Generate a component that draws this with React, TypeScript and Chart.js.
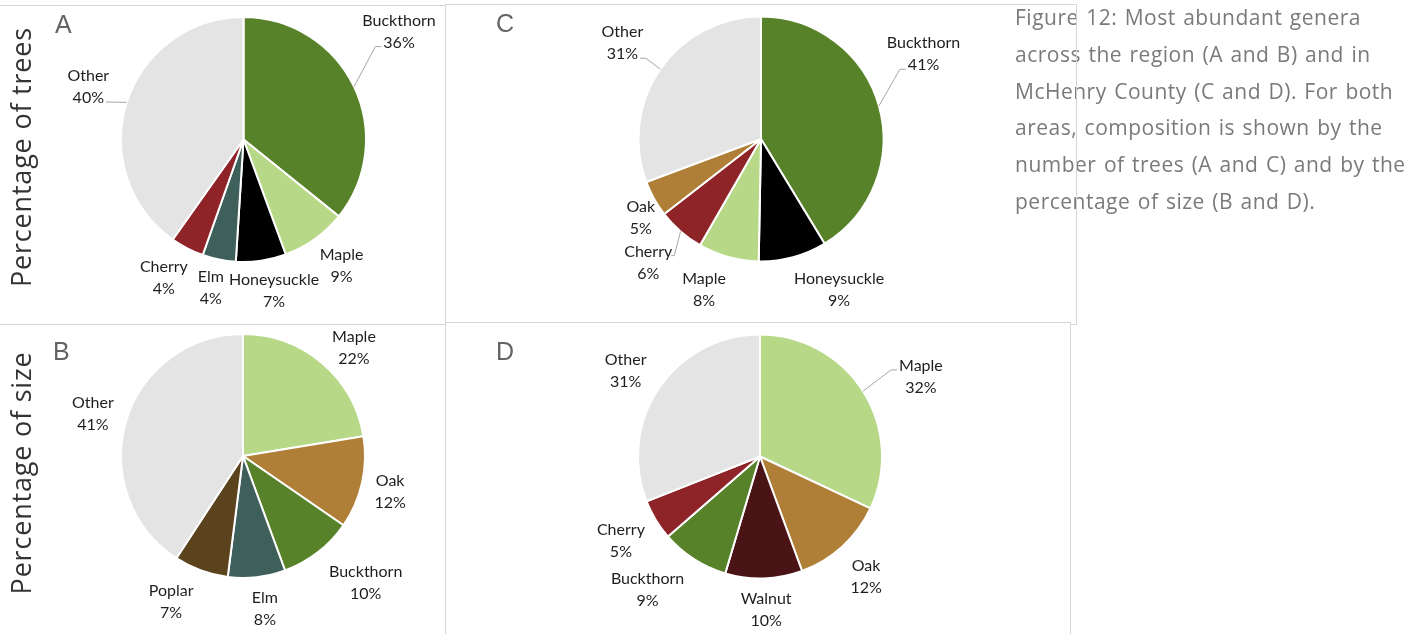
import React, { useEffect, useRef } from 'react';
import { Chart, registerables } from 'chart.js';

Chart.register(...registerables);

// ---------------- data ----------------
// A: region, number of trees
const genusA = ['Buckthorn', 'Maple', 'Honeysuckle', 'Elm', 'Cherry', 'Other'];
const valuesA = [35.8, 8.6, 6.6, 4.4, 4.4, 40.2];
// B: region, percentage of size
const genusB = ['Maple', 'Oak', 'Buckthorn', 'Elm', 'Poplar', 'Other'];
const valuesB = [22.4, 12.2, 9.8, 7.6, 7.2, 40.8];
// C: McHenry County, number of trees
const genusC = ['Buckthorn', 'Honeysuckle', 'Maple', 'Cherry', 'Oak', 'Other'];
const valuesC = [41.3, 9.0, 8.0, 6.2, 4.8, 30.7];
// D: McHenry County, percentage of size
const genusD = ['Maple', 'Oak', 'Walnut', 'Buckthorn', 'Cherry', 'Other'];
const valuesD = [32.0, 12.4, 10.2, 9.0, 5.4, 31.0];

const rowLabels = ['Percentage of trees', 'Percentage of size'];
const captionLines = [
  'Figure 12: Most abundant genera',
  'across the region (A and B) and in',
  'McHenry County (C and D). For both',
  'areas, composition is shown by the',
  'number of trees (A and C) and by the',
  'percentage of size (B and D).',
];

// ---------------- styles ----------------
const GENUS_COLORS: Record<string, string> = {
  Buckthorn: '#58822a',
  Maple: '#b7d886',
  Honeysuckle: '#000000',
  Elm: '#3f605a',
  Cherry: '#8e2328',
  Oak: '#b07f37',
  Poplar: '#5a431d',
  Walnut: '#4a1315',
  Other: '#e4e4e4',
};

const LABEL_FONT = '16px Lato';
const LABEL_COLOR = '#1e1e1e';
const LINE_H = 22;
const BASE_OFF = 6;
const LETTER_FONT = '25px "Liberation Sans"';
const LETTER_COLOR = '#646464';
const LEADER_COLOR = '#a6a6a6';
const BORDER_COLOR = '#d6d6d6';

// label layout: [angle clockwise from 12 o'clock (deg), distance in radii]
const placeA = [[55, 1.55], [142, 1.3], [168.5, 1.25], [192.5, 1.23], [210, 1.3], [289, 1.34]];
const placeB = [[45.5, 1.275], [103.4, 1.24], [135.7, 1.44], [171.8, 1.26], [206.3, 1.33], [286, 1.28]];
const placeC = [[62.2, 1.5], [152.5, 1.38], [200.8, 1.31], [222.6, 1.36], [237, 1.17], [304.9, 1.38]];
const placeD = [[63.4, 1.475], [138.4, 1.31], [177.7, 1.25], [220.3, 1.425], [239, 1.33], [302.8, 1.31]];

type PanelCfg = {
  key: string;
  genus: string[];
  values: number[];
  box: { x: number; y: number; w: number; h: number };
  center: [number, number];
  r: number;
  letter: [number, number];
  place: number[][];
  leaders: Record<string, number>;
};

const PANELS: PanelCfg[] = [
  { key: 'A', genus: genusA, values: valuesA, box: { x: 0, y: 6, w: 445, h: 318 }, center: [243.5, 139.5], r: 122.5, letter: [55, 33], place: placeA, leaders: { Buckthorn: 1, Other: 1 } },
  { key: 'C', genus: genusC, values: valuesC, box: { x: 446, y: 5, w: 630, h: 317 }, center: [761, 139], r: 122.5, letter: [496, 32], place: placeC, leaders: { Buckthorn: 1, Other: 1, Cherry: 0 } },
  { key: 'B', genus: genusB, values: valuesB, box: { x: 0, y: 325, w: 445, h: 309 }, center: [243, 456], r: 122, letter: [53, 360], place: placeB, leaders: {} },
  { key: 'D', genus: genusD, values: valuesD, box: { x: 446, y: 323, w: 624, h: 311 }, center: [760, 456.5], r: 122, letter: [496, 360], place: placeD, leaders: { Maple: 0 } },
];

function makeLabelPlugin(p: PanelCfg) {
  return {
    id: 'pieLabels' + p.key,
    afterDatasetsDraw(chart: any) {
      const ctx: CanvasRenderingContext2D = chart.ctx;
      const meta = chart.getDatasetMeta(0);
      const vals = chart.data.datasets[0].data as number[];
      const total = vals.reduce((a, b) => a + b, 0);
      const names = chart.data.labels as string[];
      ctx.save();
      ctx.font = LABEL_FONT;
      ctx.textAlign = 'center';
      ctx.textBaseline = 'alphabetic';
      meta.data.forEach((el: any, i: number) => {
        const { x, y, outerRadius, startAngle, endAngle } = el.getProps(
          ['x', 'y', 'outerRadius', 'startAngle', 'endAngle'],
          true
        );
        const [deg, dist] = p.place[i];
        const th = ((deg - 90) * Math.PI) / 180;
        const lx = x + dist * outerRadius * Math.cos(th);
        const ly = y + dist * outerRadius * Math.sin(th);
        const lines = [names[i], Math.round((vals[i] / total) * 100) + '%'];
        const centers = lines.map((_, k) => ly + (k - (lines.length - 1) / 2) * LINE_H);
        ctx.fillStyle = LABEL_COLOR;
        lines.forEach((t, k) => ctx.fillText(t, lx, centers[k] + BASE_OFF));
        const li = p.leaders[names[i]];
        if (li !== undefined) {
          const mid = (startAngle + endAngle) / 2;
          const ax = x + outerRadius * Math.cos(mid);
          const ay = y + outerRadius * Math.sin(mid);
          const w = ctx.measureText(lines[li]).width;
          const ey = centers[li] + 5;
          const right = ax > lx;
          const ex = right ? lx + w / 2 + 2 : lx - w / 2 - 2;
          const steep = Math.abs(ay - ey) > 20 && Math.abs(ax - ex) < 15;
          const hx = steep ? ex : right ? ex + 6 : ex - 6;
          ctx.strokeStyle = LEADER_COLOR;
          ctx.lineWidth = 1;
          ctx.beginPath();
          ctx.moveTo(steep ? ex - (right ? 3 : -3) : ex, ey);
          ctx.lineTo(hx, ey);
          ctx.lineTo(ax, ay);
          ctx.stroke();
        }
      });
      ctx.font = LETTER_FONT;
      ctx.fillStyle = LETTER_COLOR;
      ctx.textAlign = 'left';
      ctx.fillText(p.key, p.letter[0] - p.box.x, p.letter[1] - p.box.y);
      ctx.restore();
    },
  };
}

function PiePanel({ p }: { p: PanelCfg }) {
  const ref = useRef<HTMLCanvasElement>(null);
  useEffect(() => {
    const s = 2 * p.r + 2;
    const [cx, cy] = p.center;
    const padding = {
      left: cx - s / 2 - p.box.x,
      top: cy - s / 2 - p.box.y,
      right: p.box.x + p.box.w - (cx + s / 2),
      bottom: p.box.y + p.box.h - (cy + s / 2),
    };
    const chart = new Chart(ref.current as HTMLCanvasElement, {
      type: 'pie',
      data: {
        labels: p.genus,
        datasets: [
          {
            data: p.values,
            backgroundColor: p.genus.map((g) => GENUS_COLORS[g]),
            borderColor: '#ffffff',
            borderWidth: 2,
          },
        ],
      },
      options: {
        responsive: false,
        animation: false,
        events: [],
        layout: { padding },
        plugins: { legend: { display: false }, tooltip: { enabled: false } },
      },
      plugins: [makeLabelPlugin(p)],
    } as any);
    return () => chart.destroy();
  }, []);
  return (
    <canvas
      ref={ref}
      width={p.box.w}
      height={p.box.h}
      style={{ position: 'absolute', left: p.box.x, top: p.box.y, width: p.box.w, height: p.box.h }}
    />
  );
}

const borderLines = [
  { x: 0, y: 5, w: 445, h: 1 },
  { x: 445, y: 4, w: 1, h: 630 },
  { x: 0, y: 324, w: 445, h: 1 },
  { x: 445, y: 4, w: 632, h: 1 },
  { x: 1076, y: 4, w: 1, h: 321 },
  { x: 1070, y: 324, w: 7, h: 1 },
  { x: 445, y: 322, w: 626, h: 1 },
  { x: 1070, y: 322, w: 1, h: 312 },
];

const rowLabelPos = [
  [19.5, 157],
  [19.5, 472.5],
];

export default function App() {
  return (
    <div
      style={{
        position: 'absolute',
        left: 0,
        top: 0,
        width: 1427,
        height: 634,
        background: '#ffffff',
        overflow: 'hidden',
      }}
    >
      {PANELS.map((p) => (
        <PiePanel key={p.key} p={p} />
      ))}
      {rowLabels.map((t, i) => (
        <div
          key={t}
          style={{
            position: 'absolute',
            left: rowLabelPos[i][0],
            top: rowLabelPos[i][1],
            transform: 'translate(-50%, -50%) rotate(-90deg)',
            font: '27px "Open Sans"',
            letterSpacing: '0.8px',
            lineHeight: 1,
            whiteSpace: 'nowrap',
            color: '#333333',
          }}
        >
          {t}
        </div>
      ))}
      <div
        style={{
          position: 'absolute',
          left: 1015,
          top: -1,
          font: '21px "Open Sans"',
          letterSpacing: '0.5px',
          wordSpacing: '1.5px',
          lineHeight: '36.8px',
          color: '#7a7a7a',
          whiteSpace: 'pre',
        }}
      >
        {captionLines.map((l) => (
          <div key={l}>{l}</div>
        ))}
      </div>
      {borderLines.map((b, i) => (
        <div
          key={i}
          style={{ position: 'absolute', left: b.x, top: b.y, width: b.w, height: b.h, background: BORDER_COLOR }}
        />
      ))}
    </div>
  );
}
